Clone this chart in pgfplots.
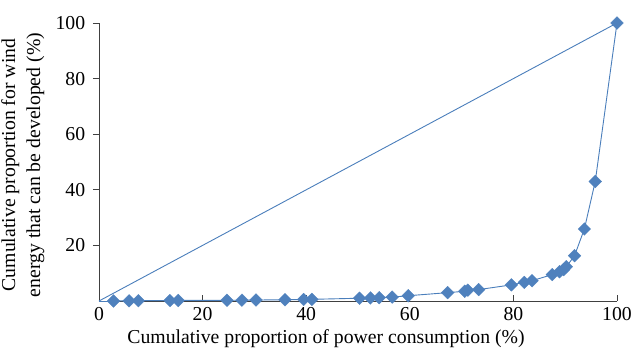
\documentclass[border=0pt]{standalone}
\usepackage{pgfplots}
\pgfplotsset{compat=1.18}
\usepackage{fontspec}
\setmainfont{Liberation Serif}
\definecolor{xlblue}{HTML}{4F81BD}
\definecolor{xlline}{HTML}{4A7EBB}
\pgfplotstableread{
x y
2.8 0.0
5.8 0.05
7.6 0.1
13.7 0.15
15.3 0.2
24.7 0.25
27.6 0.3
30.3 0.35
35.9 0.45
39.5 0.55
41.1 0.6
50.3 1.0
52.4 1.1
54.1 1.2
56.6 1.4
59.7 1.9
67.3 3.0
70.6 3.5
71.2 3.9
73.3 4.1
79.6 5.8
82.1 6.7
83.6 7.3
87.5 9.5
88.9 10.5
89.7 11.3
90.2 12.3
91.8 16.3
93.7 25.9
95.8 43.0
100 100
}\curve
\begin{document}
\fontsize{19.8}{25}\selectfont
\begin{tikzpicture}
\begin{axis}[
  scale only axis,
  width=518bp, height=278bp,
  xmin=0, xmax=100, ymin=0, ymax=100,
  axis lines=left,
  axis line style={-, draw=black!75, line width=0.8bp},
  xtick={0,20,...,100},
  ytick={20,40,...,100},
  xtick style={draw=black!75, line width=0.8bp},
  ytick style={draw=black!75, line width=0.8bp},
  xtick align=inside,
  ytick align=outside,
  major tick length=6bp,
  tick label style={font=\fontsize{19.8}{25}\selectfont},
  label style={font=\fontsize{19.8}{25}\selectfont},
  /pgf/number format/assume math mode=true,
  xlabel={Cumulative proportion of power consumption (\%)},
  ylabel={Cumulative proportion for wind\\energy that can be developed (\%)},
  ylabel style={align=center, yshift=-2bp, xshift=-3bp},
  xlabel style={yshift=5bp, xshift=-32bp},
  yticklabel style={xshift=-1bp},
  clip=false,
]
\addplot[xlline, line width=0.9bp, no marks] coordinates {(0,0) (100,100)};
\addplot[xlline, line width=0.9bp, no marks, forget plot] coordinates {(0,0) (2.8,0)};
\addplot[xlline, line width=0.9bp, mark=square*, mark size=4.5bp,
  mark options={rotate=45, fill=xlblue, draw=xlblue, line width=0.3bp}]
  table[x=x,y=y] {\curve};
\end{axis}
\pgfresetboundingbox
\path ([xshift=-99bp,yshift=-54bp]current axis.south west) rectangle ([xshift=15bp,yshift=23bp]current axis.north east);
\end{tikzpicture}
\end{document}
